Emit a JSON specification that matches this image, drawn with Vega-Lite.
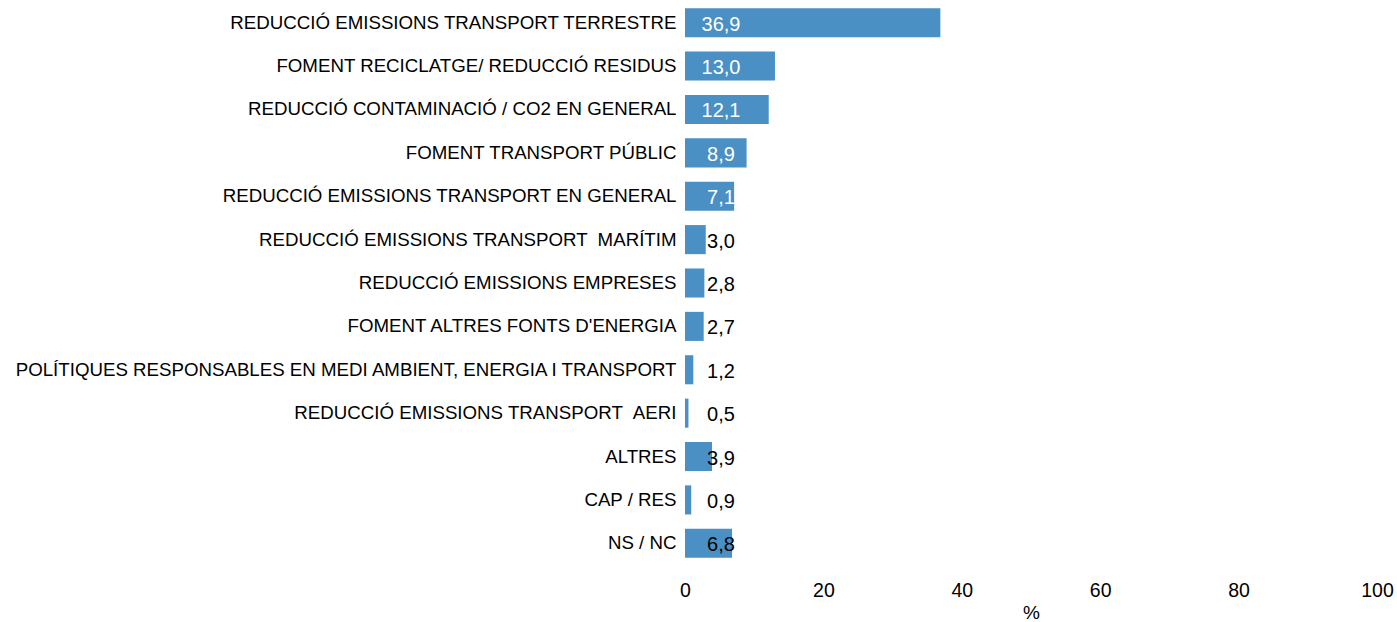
{
  "$schema": "https://vega.github.io/schema/vega-lite/v6.json",
  "width": 692,
  "height": 564,
  "autosize": {"type": "none"},
  "padding": {"left": 685, "top": 1, "right": 20, "bottom": 57},
  "background": "white",
  "config": {
    "view": {"stroke": null},
    "font": "Liberation Sans"
  },
  "data": {
    "values": [
      {"cat": "REDUCCIÓ EMISSIONS TRANSPORT TERRESTRE", "value": 36.9, "label": "36,9"},
      {"cat": "FOMENT RECICLATGE/ REDUCCIÓ RESIDUS", "value": 13.0, "label": "13,0"},
      {"cat": "REDUCCIÓ CONTAMINACIÓ / CO2 EN GENERAL", "value": 12.1, "label": "12,1"},
      {"cat": "FOMENT TRANSPORT PÚBLIC", "value": 8.9, "label": "8,9"},
      {"cat": "REDUCCIÓ EMISSIONS TRANSPORT EN GENERAL", "value": 7.1, "label": "7,1"},
      {"cat": "REDUCCIÓ EMISSIONS TRANSPORT \u00a0MARÍTIM", "value": 3.0, "label": "3,0"},
      {"cat": "REDUCCIÓ EMISSIONS EMPRESES", "value": 2.8, "label": "2,8"},
      {"cat": "FOMENT ALTRES FONTS D'ENERGIA", "value": 2.7, "label": "2,7"},
      {"cat": "POLÍTIQUES RESPONSABLES EN MEDI AMBIENT, ENERGIA I TRANSPORT", "value": 1.2, "label": "1,2"},
      {"cat": "REDUCCIÓ EMISSIONS TRANSPORT \u00a0AERI", "value": 0.5, "label": "0,5"},
      {"cat": "ALTRES", "value": 3.9, "label": "3,9"},
      {"cat": "CAP / RES", "value": 0.9, "label": "0,9"},
      {"cat": "NS / NC", "value": 6.8, "label": "6,8"}
    ]
  },
  "encoding": {
    "y": {
      "field": "cat",
      "type": "nominal",
      "sort": null,
      "scale": {"paddingInner": 0.33, "paddingOuter": 0.165},
      "axis": {
        "title": null,
        "ticks": false,
        "domain": false,
        "labelPadding": 9,
        "labelFontSize": 18.7,
        "labelColor": "#000000",
        "labelLimit": 700,
        "labelFont": "Liberation Sans"
      }
    }
  },
  "layer": [
    {
      "mark": {"type": "bar", "color": "#4a90c4"},
      "encoding": {
        "x": {
          "field": "value",
          "type": "quantitative",
          "scale": {"domain": [0, 100], "nice": false},
          "axis": {
            "title": "%",
            "values": [0, 20, 40, 60, 80, 100],
            "grid": false,
            "ticks": false,
            "domain": false,
            "labelFlush": false,
            "labelOverlap": false,
            "labelPadding": 16,
            "labelFontSize": 19.5,
            "labelColor": "#000000",
            "labelFont": "Liberation Sans",
            "titleFontSize": 19,
            "titleFontWeight": "normal",
            "titleColor": "#000000",
            "titleFont": "Liberation Sans",
            "titlePadding": 4
          }
        }
      }
    },
    {
      "mark": {"type": "text", "align": "center", "baseline": "middle", "fontSize": 20, "font": "Liberation Sans", "dy": 2},
      "encoding": {
        "x": {"datum": 5.2, "type": "quantitative"},
        "text": {"field": "label"},
        "color": {
          "condition": {"test": "datum.value >= 7", "value": "#ffffff"},
          "value": "#000000"
        }
      }
    }
  ]
}
